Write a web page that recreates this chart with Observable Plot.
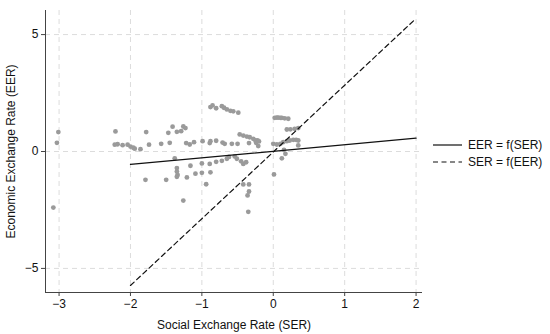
<!DOCTYPE html>
<html>
<head>
<meta charset="utf-8">
<script src="https://cdn.jsdelivr.net/npm/d3@7"></script>
<script src="https://cdn.jsdelivr.net/npm/@observablehq/plot@0.6"></script>
<style>
  html, body { margin: 0; padding: 0; background: white; }
  #wrap { position: relative; width: 550px; height: 334px; font-family: "Liberation Sans", Arial, sans-serif; }
  #legend { position: absolute; left: 433px; top: 136px; font-size: 12px; color: #111; }
  .row { display: flex; align-items: center; height: 17px; }
  .row svg { margin-right: 6px; }
</style>
</head>
<body>
<div id="wrap">
  <div id="chart"></div>
  <div id="legend"></div>
</div>
<script>
// axis settings
const xDomain = [-3.19, 2.09];
const yDomain = [-6.03, 6.03];
const xTicks = [-3, -2, -1, 0, 1, 2];
const yTicks = [-5, 0, 5];

// scatter: Social Exchange Rate (SER) and Economic Exchange Rate (EER)
const serValues = [
  -3.01, -3.03, -3.08,
  -2.21, -2.22, -2.18, -2.11, -2.04, -2.00, -1.96, -1.94, -1.86, -1.78, -1.74, -1.79, -1.57, -1.50,
  -1.47, -1.41, -1.35, -1.29, -1.26, -1.23,
  -1.45, -1.38, -1.35, -1.35, -1.34, -1.35,
  -1.22, -1.17, -1.11, -0.99, -0.89, -0.88, -0.80, -0.71, -0.68, -0.58, -0.50, -0.34, -0.24, -0.21,
  -1.16, -1.00, -0.89, -0.80, -0.72, -0.65, -0.62, -0.54, -0.51, -0.45, -0.42, -0.38,
  -1.09, -1.00, -0.88, -1.21, -0.94, -1.26, -0.42, -0.34, -0.34, -0.36, -0.35,
  -0.88, -0.85, -0.80, -0.72, -0.69, -0.65, -0.60, -0.56, -0.49,
  -0.47, -0.42, -0.37, -0.33, -0.28, -0.25, -0.22, -0.20,
  0.02, 0.05, 0.07, 0.10, 0.12, 0.16, 0.21,
  0.19, 0.24, 0.30, 0.35,
  0.23, 0.28, 0.32, 0.35, 0.35,
  0.00, 0.05, 0.10, 0.14, 0.19,
  0.15, 0.17, 0.12, 0.01
];
const eerValues = [
  0.83, 0.37, -2.40,
  0.86, 0.29, 0.31, 0.27, 0.29, 0.21, 0.16, 0.12, 0.10, 0.83, 0.29, -1.21, 0.33, -1.21,
  0.80, 1.06, 0.84, 0.87, 1.07, 1.00,
  0.37, -0.29, -0.71, -0.86, -1.00, -1.08,
  0.36, 0.30, 0.40, 0.44, 0.36, 0.44, 0.46, 0.38, 0.33, 0.33, 0.33, 0.36, 0.37, 0.23,
  -0.61, -0.51, -0.53, -0.44, -0.40, -0.31, -0.23, -0.21, -0.31, -0.42, -0.53, -0.46,
  -0.95, -0.91, -0.89, -1.11, -1.40, -2.10, -1.41, -1.41, -1.71, -1.88, -2.58,
  1.90, 1.97, 1.85, 1.94, 1.87, 1.80, 1.74, 1.72, 1.66,
  0.73, 0.68, 0.64, 0.61, 0.54, 0.47, 0.47, 0.43,
  1.44, 1.45, 1.45, 1.44, 1.44, 1.42, 1.40,
  0.94, 0.95, 0.97, 1.00,
  0.47, 0.50, 0.50, 0.47, 0.26,
  0.33, 0.30, 0.33, 0.40, 0.44,
  0.07, -0.10, -0.29, -0.98
];

// fitted lines
const fitX = [-2, 2];
const fitEER = [-0.55, 0.57];   // EER = f(SER)
const fitSER = [-5.73, 5.69];   // SER = f(EER)

const legendLabels = ["EER = f(SER)", "SER = f(EER)"];
const legendDash = ["none", "5,3.5"];

const points = serValues.map((s, i) => ({ser: s, eer: eerValues[i]}));
const fit = fitX.map((x, i) => ({x, eer: fitEER[i], ser: fitSER[i]}));

const chart = Plot.plot({
  width: 550,
  height: 334,
  marginLeft: 45,
  marginRight: 128,
  marginTop: 10,
  marginBottom: 42,
  x: {domain: xDomain},
  y: {domain: yDomain},
  style: {fontFamily: '"Liberation Sans", Arial, sans-serif', fontSize: "12px", color: "#111", background: "white"},
  marks: [
    Plot.gridX(xTicks, {stroke: "#dcdcdc", strokeOpacity: 1, strokeDasharray: "5,4"}),
    Plot.gridY(yTicks, {stroke: "#dcdcdc", strokeOpacity: 1, strokeDasharray: "5,4"}),
    Plot.dot(points, {x: "ser", y: "eer", r: 2.4, fill: "#9a9a9a", stroke: null}),
    Plot.line(fit, {x: "x", y: "eer", stroke: "#111", strokeWidth: 1.2}),
    Plot.line(fit, {x: "x", y: "ser", stroke: "#111", strokeWidth: 1.2, strokeDasharray: "5,3.5"}),
    Plot.ruleX([xDomain[0]], {stroke: "#444"}),
    Plot.ruleY([yDomain[0]], {stroke: "#444"}),
    Plot.axisX(xTicks, {tickSize: 4, tickPadding: 3, stroke: "#444", label: "Social Exchange Rate (SER)", labelAnchor: "center", labelArrow: "none", labelOffset: 36}),
    Plot.axisY(yTicks, {tickSize: 4, tickPadding: 3, stroke: "#444", label: "Economic Exchange Rate (EER)", labelAnchor: "center", labelArrow: "none", labelOffset: 39})
  ]
});
document.getElementById("chart").appendChild(chart);

const legend = document.getElementById("legend");
legendLabels.forEach((lab, i) => {
  const row = document.createElement("div");
  row.className = "row";
  row.innerHTML = `<svg width="29" height="4"><line x1="0" x2="29" y1="2" y2="2" stroke="#111" stroke-width="1.2" ${legendDash[i] === "none" ? "" : `stroke-dasharray="${legendDash[i]}"`}/></svg><span>${lab}</span>`;
  legend.appendChild(row);
});
</script>
</body>
</html>
